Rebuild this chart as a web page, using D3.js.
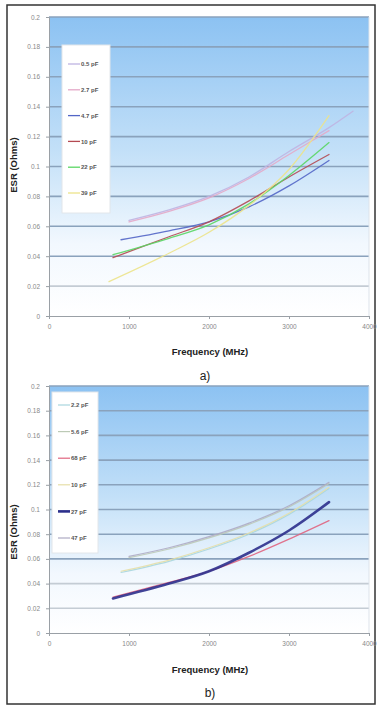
<!DOCTYPE html>
<html>
<head>
<meta charset="utf-8">
<script src="https://cdn.jsdelivr.net/npm/d3@7"></script>
<style>
  html, body { margin: 0; padding: 0; background: #fff; }
  svg { display: block; font-family: "Liberation Sans", Arial, sans-serif; }
</style>
</head>
<body>
<svg id="chart" width="377" height="706"></svg>
<script>
// ---- data ----
const yTicks = [0, 0.02, 0.04, 0.06, 0.08, 0.1, 0.12, 0.14, 0.16, 0.18, 0.2];
const xTicks = [0, 1000, 2000, 3000, 4000];

const seriesNamesA = ["0.5 pF", "2.7 pF", "4.7 pF", "10 pF", "22 pF", "39 pF"];
const seriesColorsA = ["#bfb4e2", "#e4a8c8", "#5366c6", "#b44a52", "#5ad664", "#ece38a"];
const seriesA_05 = [[1000, 0.064], [1500, 0.071], [2000, 0.080], [2500, 0.093], [3000, 0.110], [3500, 0.126], [3800, 0.137]];
const seriesA_27 = [[1000, 0.063], [1500, 0.070], [2000, 0.079], [2500, 0.092], [3000, 0.108], [3500, 0.124]];
const seriesA_47 = [[900, 0.051], [1500, 0.057], [2000, 0.063], [2500, 0.073], [3000, 0.087], [3500, 0.104]];
const seriesA_10 = [[800, 0.039], [1500, 0.053], [2000, 0.063], [2500, 0.077], [3000, 0.093], [3500, 0.108]];
const seriesA_22 = [[800, 0.041], [1500, 0.052], [2000, 0.061], [2500, 0.075], [3000, 0.094], [3500, 0.116]];
const seriesA_39 = [[750, 0.023], [1500, 0.042], [2000, 0.056], [2500, 0.074], [3000, 0.098], [3500, 0.134]];

const seriesNamesB = ["2.2 pF", "5.6 pF", "68 pF", "10 pF", "27 pF", "47 pF"];
const seriesColorsB = ["#a8d6de", "#bccab6", "#e0647f", "#e6dfa8", "#2c2f8c", "#aeabc4"];
const seriesB_22 = [[900, 0.049], [1500, 0.058], [2000, 0.068], [2500, 0.080], [3000, 0.096], [3500, 0.117]];
const seriesB_56 = [[1000, 0.061], [1500, 0.068], [2000, 0.077], [2500, 0.088], [3000, 0.102], [3500, 0.121]];
const seriesB_68 = [[800, 0.029], [1500, 0.041], [2000, 0.050], [2500, 0.062], [3000, 0.076], [3500, 0.091]];
const seriesB_10 = [[900, 0.050], [1500, 0.059], [2000, 0.069], [2500, 0.081], [3000, 0.097], [3500, 0.118]];
const seriesB_27 = [[800, 0.028], [1500, 0.040], [2000, 0.050], [2500, 0.065], [3000, 0.083], [3500, 0.106]];
const seriesB_47 = [[1000, 0.062], [1500, 0.069], [2000, 0.078], [2500, 0.089], [3000, 0.103], [3500, 0.122]];

const svg = d3.select("#chart");

// outer frame
svg.append("rect")
  .attr("x", 7).attr("y", 5).attr("width", 368).attr("height", 699)
  .attr("fill", "none").attr("stroke", "#333").attr("stroke-width", 1.5);

const defs = svg.append("defs");
const grad = defs.append("linearGradient")
  .attr("id", "plotBg").attr("x1", 0).attr("y1", 0).attr("x2", 0).attr("y2", 1);
grad.append("stop").attr("offset", "0%").attr("stop-color", "#8cc2f2");
grad.append("stop").attr("offset", "45%").attr("stop-color", "#c3e0f8");
grad.append("stop").attr("offset", "76%").attr("stop-color", "#f2f8fe");
grad.append("stop").attr("offset", "100%").attr("stop-color", "#ffffff");

function drawChart(opt) {
  const g = svg.append("g");
  const x = d3.scaleLinear().domain([0, 4000]).range([opt.left, opt.right]);
  const y = d3.scaleLinear().domain([0, 0.2]).range([opt.bottom, opt.top]);

  g.append("rect")
    .attr("x", x(0)).attr("y", y(0.2))
    .attr("width", x(4000) - x(0)).attr("height", y(0) - y(0.2))
    .attr("fill", "url(#plotBg)");

  // horizontal gridlines
  g.append("g").selectAll("line")
    .data(yTicks.filter((t) => t > 0))
    .join("line")
    .attr("x1", x(0)).attr("x2", x(4000))
    .attr("y1", (d) => y(d)).attr("y2", (d) => y(d))
    .attr("stroke", (d) => (d <= opt.grayBelow ? "#c4ccd4" : "#8aa2bc"))
    .attr("stroke-width", 1.6);

  // right edge of the plot
  g.append("line")
    .attr("x1", x(4000)).attr("x2", x(4000))
    .attr("y1", y(0.2)).attr("y2", y(0))
    .attr("stroke", "#dde3ea").attr("stroke-width", 1);

  const gy = g.append("g").attr("transform", `translate(${x(0)},0)`)
    .call(d3.axisLeft(y).tickValues(yTicks).tickSize(3).tickFormat((d) => String(d)));
  gy.selectAll("path,line").attr("stroke", "#9aa0a6");
  gy.selectAll("text").attr("fill", "#888").style("font-size", "6.5px").attr("dx", "-3");

  const gx = g.append("g").attr("transform", `translate(0,${y(0)})`)
    .call(d3.axisBottom(x).tickValues(xTicks).tickSize(3).tickFormat((d) => String(d)));
  gx.selectAll("path,line").attr("stroke", "#9aa0a6");
  gx.selectAll("text").attr("fill", "#888").style("font-size", "6.5px").attr("dy", "1.1em");

  const line = d3.line()
    .x((d) => x(d[0])).y((d) => y(d[1]))
    .curve(d3.curveMonotoneX);

  g.append("g").selectAll("path")
    .data(opt.series)
    .join("path")
    .attr("d", (d) => line(d.values))
    .attr("fill", "none")
    .attr("stroke", (d) => d.color)
    .attr("stroke-width", (d) => d.width || 1.3)
    .attr("stroke-opacity", 0.9)
    .attr("stroke-linecap", "round");

  // legend
  const lg = g.append("g");
  lg.append("rect")
    .attr("x", opt.legend.x).attr("y", opt.legend.y)
    .attr("width", opt.legend.w).attr("height", opt.legend.h)
    .attr("fill", "#fff").attr("stroke", "#e2e6ea");
  const rows = lg.selectAll("g.row").data(opt.series).join("g")
    .attr("class", "row")
    .attr("transform", (d, i) => `translate(${opt.legend.x + 6},${opt.legend.y + opt.legend.first + i * opt.legend.step})`);
  rows.append("line")
    .attr("x1", 0).attr("x2", 12)
    .attr("stroke", (d) => d.color)
    .attr("stroke-width", (d) => d.width || 1.3);
  rows.append("text")
    .attr("x", 13).attr("dy", "0.35em")
    .attr("fill", "#555").style("font-size", "6px").style("font-weight", "bold")
    .text((d) => d.name);

  // titles
  g.append("text")
    .attr("x", (x(0) + x(4000)) / 2 + 1).attr("y", opt.xTitleY)
    .attr("text-anchor", "middle")
    .style("font-size", "9.5px").style("font-weight", "bold").attr("fill", "#222")
    .text("Frequency (MHz)");
  g.append("text")
    .attr("transform", `translate(17,${opt.yTitleY}) rotate(-90)`)
    .attr("text-anchor", "middle")
    .style("font-size", "9.5px").style("font-weight", "bold").attr("fill", "#222")
    .text("ESR (Ohms)");
  g.append("text")
    .attr("x", opt.tagX).attr("y", opt.tagY)
    .attr("text-anchor", "middle")
    .style("font-size", "12px").attr("fill", "#222")
    .text(opt.tag);
}

const seriesA = [seriesA_05, seriesA_27, seriesA_47, seriesA_10, seriesA_22, seriesA_39]
  .map((values, i) => ({ name: seriesNamesA[i], color: seriesColorsA[i], values }));
const seriesB = [seriesB_22, seriesB_56, seriesB_68, seriesB_10, seriesB_27, seriesB_47]
  .map((values, i) => ({ name: seriesNamesB[i], color: seriesColorsB[i], values, width: i === 4 ? 2.6 : 1.2 }));

drawChart({
  left: 49, right: 369, top: 17, bottom: 316,
  series: seriesA, grayBelow: 0.02,
  legend: { x: 62, y: 45, w: 48, h: 168, first: 19, step: 25.8 },
  xTitleY: 355, yTitleY: 165, tag: "a)", tagX: 205, tagY: 380
});

drawChart({
  left: 49, right: 369, top: 386, bottom: 633,
  series: seriesB, grayBelow: 0.04,
  legend: { x: 52, y: 392, w: 46, h: 161, first: 13, step: 26.6 },
  xTitleY: 673, yTitleY: 532, tag: "b)", tagX: 210, tagY: 697
});
</script>
</body>
</html>
